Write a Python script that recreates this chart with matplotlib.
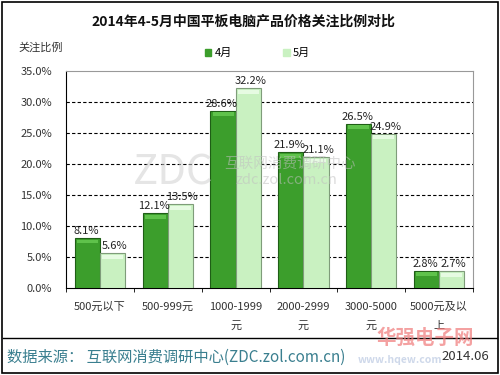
import matplotlib
matplotlib.use("Agg")
import matplotlib.pyplot as plt
import numpy as np
from matplotlib.patches import Rectangle
from matplotlib.lines import Line2D

plt.rcParams['font.family'] = ['Noto Sans CJK SC', 'DejaVu Sans']

categories = ["500元以下", "500-999元", "1000-1999\n元", "2000-2999\n元", "3000-5000\n元", "5000元及以\n上"]
april = [8.1, 12.1, 28.6, 21.9, 26.5, 2.8]
may = [5.6, 13.5, 32.2, 21.1, 24.9, 2.7]
series_names = ["4月", "5月"]
yticks = [0, 5, 10, 15, 20, 25, 30, 35]

c_apr = "#3c9e2c"
c_may = "#c9f1c1"

fig = plt.figure(figsize=(5, 3.75), dpi=100)
ax = fig.add_axes([0.132, 0.232, 0.814, 0.579])

x = np.arange(len(categories))
w = 0.37
b1 = ax.bar(x - w/2, april, w, color=c_apr, edgecolor="#1f5e16", linewidth=0.8, zorder=3)
b2 = ax.bar(x + w/2, may, w, color=c_may, edgecolor="#7f9c7a", linewidth=0.8, zorder=3)

# bevel highlights on bar tops
for rect, v in zip(b1, april):
    ax.add_patch(Rectangle((rect.get_x() + 0.03, v - 0.9), rect.get_width() - 0.06, 0.6,
                           color="#5fc24b", zorder=4, linewidth=0))
for rect, v in zip(b2, may):
    ax.add_patch(Rectangle((rect.get_x() + 0.03, v - 0.9), rect.get_width() - 0.06, 0.6,
                           color="#e6fbe2", zorder=4, linewidth=0))

for rect, v in zip(b1, april):
    ax.text(rect.get_x() + rect.get_width()/2 - 0.02, v + 0.3, f"{v:.1f}%", ha="center", va="bottom", fontsize=8, color="#222222", zorder=6)
for rect, v in zip(b2, may):
    ax.text(rect.get_x() + rect.get_width()/2 + 0.03, v + 0.3, f"{v:.1f}%", ha="center", va="bottom", fontsize=8, color="#222222", zorder=6)

ax.set_xlim(-0.5, len(categories) - 0.5)
ax.set_ylim(0, 35)
ax.set_yticks(yticks)
ax.set_yticklabels([f"{t:.1f}%" for t in yticks], fontsize=8, color="#333333")
ax.tick_params(axis="y", length=0, pad=10)
ax.set_xticks(x)
ax.set_xticklabels(categories, fontsize=8, color="#333333", linespacing=2.1)
ax.tick_params(axis="x", length=0, pad=10)
ax.set_xticks(np.arange(len(categories) + 1) - 0.5, minor=True)
ax.tick_params(axis="x", which="minor", length=3, direction="out", color="black")

for t in yticks[1:-1]:
    ax.axhline(t, color="black", linestyle=(0, (3, 2)), linewidth=0.8, zorder=1)

ax.spines["left"].set_color("black")
ax.spines["bottom"].set_color("black")
ax.spines["top"].set_color("#999999")
ax.spines["right"].set_color("#999999")

# watermark in plot
ax.text(1.08, 18.5, "ZDC", fontsize=30, color="#d0d0d0", alpha=0.55, ha="center", va="center", zorder=5)
ax.text(2.8, 20.0, "互联网消费调研中心", fontsize=10.5, color="#c0c0c0", alpha=0.55, ha="center", va="center", zorder=5)
ax.text(2.75, 17.4, "zdc.zol.com.cn", fontsize=10.5, color="#c0c0c0", alpha=0.55, ha="center", va="center", zorder=5)

fig.text(0.487, 0.941, "2014年4-5月中国平板电脑产品价格关注比例对比", ha="center", va="center", fontsize=10, fontweight="bold", color="#111111")
fig.text(0.036, 0.872, "关注比例", ha="left", va="center", fontsize=8, color="#333333")

handles = [Rectangle((0, 0), 1, 1, color=c_apr), Rectangle((0, 0), 1, 1, color=c_may)]
fig.legend(handles, series_names, loc="center", bbox_to_anchor=(0.515, 0.858), ncol=2, frameon=False,
           fontsize=8, handlelength=0.6, handleheight=0.6, columnspacing=4.6, handletextpad=0.3)

# bottom separator and source
fig.add_artist(Line2D([0.006, 0.994], [0.099, 0.099], color="black", linewidth=1))
fig.text(0.85, 0.098, "华强电子网", ha="center", va="center", fontsize=14, fontweight="bold", color="#f07a7a", alpha=0.7)
fig.text(0.80, 0.040, "www.hqew.com", ha="center", va="center", fontsize=7.5, fontweight="bold", color="#9fb3d6", alpha=0.5)
fig.text(0.014, 0.048, "数据来源： 互联网消费调研中心(ZDC.zol.com.cn)", ha="left", va="center", fontsize=11, color="#3a7f8f")
fig.text(0.978, 0.048, "2014.06", ha="right", va="center", fontsize=9.5, color="#333333")

# outer border
fig.add_artist(Rectangle((0.004, 0.005), 0.992, 0.99, fill=False, edgecolor="black", linewidth=1.2, transform=fig.transFigure))

fig.savefig("out.png", dpi=100)
